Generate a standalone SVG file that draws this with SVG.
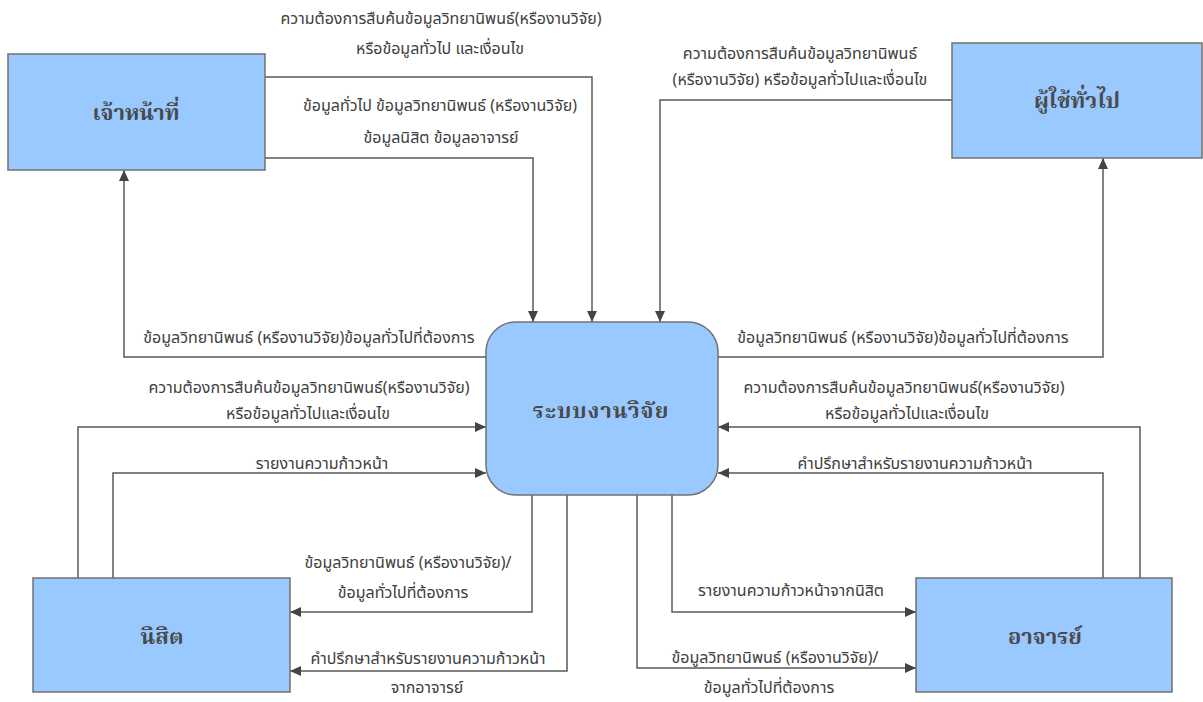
<svg xmlns="http://www.w3.org/2000/svg" width="1203" height="702" viewBox="0 0 1203 702">
<style>
.node{fill:#99c9ff;stroke:#707070;stroke-width:1.5}
.nl{font-family:"Noto Serif Thai","Noto Sans Thai",serif;font-size:22px;fill:#4a4a4a;text-anchor:middle;font-weight:bold}
.c{fill:none;stroke:#5a5a5a;stroke-width:1.5;marker-end:url(#ah)}
.t{font-family:Tahoma,"Noto Sans Thai","Noto Sans",sans-serif;font-size:16px;fill:#404040;text-anchor:middle}
</style>
<defs>
<marker id="ah" markerUnits="userSpaceOnUse" markerWidth="12" markerHeight="10" refX="11" refY="5" orient="auto">
<path d="M0,0 L11,5 L0,10 z" fill="#444"/>
</marker>
</defs>
<rect width="1203" height="702" fill="#fff"/>
<g id="connectors">
<polyline class="c" points="265,77 592,77 592,322"/>
<polyline class="c" points="265,158 533,158 533,322"/>
<polyline class="c" points="952,100 660,100 660,322"/>
<polyline class="c" points="486,357 124,357 124,170"/>
<polyline class="c" points="718,357 1103,357 1103,158"/>
<polyline class="c" points="78,578 78,427 486,427"/>
<polyline class="c" points="113,578 113,473 486,473"/>
<polyline class="c" points="1140,578 1140,427 718,427"/>
<polyline class="c" points="1103,578 1103,473 718,473"/>
<polyline class="c" points="532,495 532,612 290,612"/>
<polyline class="c" points="567,495 567,671 290,671"/>
<polyline class="c" points="637,495 637,668 916,668"/>
<polyline class="c" points="672,495 672,612 916,612"/>
<text class="t" x="441" y="24">ความต้องการสืบค้นข้อมูลวิทยานิพนธ์(หรืองานวิจัย)</text>
<text class="t" x="440" y="54">หรือข้อมูลทั่วไป  และเงื่อนไข</text>
<text class="t" x="440" y="111">ข้อมูลทั่วไป  ข้อมูลวิทยานิพนธ์ (หรืองานวิจัย)</text>
<text class="t" x="441" y="143">ข้อมูลนิสิต  ข้อมูลอาจารย์</text>
<text class="t" x="800" y="59">ความต้องการสืบค้นข้อมูลวิทยานิพนธ์</text>
<text class="t" x="800" y="85">(หรืองานวิจัย) หรือข้อมูลทั่วไปและเงื่อนไข</text>
<text class="t" x="309" y="343">ข้อมูลวิทยานิพนธ์ (หรืองานวิจัย)ข้อมูลทั่วไปที่ต้องการ</text>
<text class="t" x="903" y="343">ข้อมูลวิทยานิพนธ์ (หรืองานวิจัย)ข้อมูลทั่วไปที่ต้องการ</text>
<text class="t" x="309" y="393">ความต้องการสืบค้นข้อมูลวิทยานิพนธ์(หรืองานวิจัย)</text>
<text class="t" x="308" y="419">หรือข้อมูลทั่วไปและเงื่อนไข</text>
<text class="t" x="904" y="393">ความต้องการสืบค้นข้อมูลวิทยานิพนธ์(หรืองานวิจัย)</text>
<text class="t" x="907" y="419">หรือข้อมูลทั่วไปและเงื่อนไข</text>
<text class="t" x="322" y="469">รายงานความก้าวหน้า</text>
<text class="t" x="915" y="469">คำปรึกษาสำหรับรายงานความก้าวหน้า</text>
<text class="t" x="408" y="568">ข้อมูลวิทยานิพนธ์ (หรืองานวิจัย)/</text>
<text class="t" x="403" y="598">ข้อมูลทั่วไปที่ต้องการ</text>
<text class="t" x="428" y="664">คำปรึกษาสำหรับรายงานความก้าวหน้า</text>
<text class="t" x="427" y="693">จากอาจารย์</text>
<text class="t" x="791" y="596">รายงานความก้าวหน้าจากนิสิต</text>
<text class="t" x="775" y="663">ข้อมูลวิทยานิพนธ์ (หรืองานวิจัย)/</text>
<text class="t" x="769" y="693">ข้อมูลทั่วไปที่ต้องการ</text>
</g>
<g id="n-staff">
<rect class="node" x="8" y="54" width="257" height="116"/>
<text class="nl" x="136" y="120">เจ้าหน้าที่</text>
</g>
<g id="n-public">
<rect class="node" x="952" y="43" width="250" height="115"/>
<text class="nl" x="1077" y="108">ผู้ใช้ทั่วไป</text>
</g>
<g id="n-system">
<rect class="node" x="486" y="322" width="232" height="173" rx="30" ry="30"/>
<text class="nl" x="601" y="418" letter-spacing="1">ระบบงานวิจัย</text>
</g>
<g id="n-student">
<rect class="node" x="33" y="578" width="257" height="114"/>
<text class="nl" x="162" y="644">นิสิต</text>
</g>
<g id="n-advisor">
<rect class="node" x="916" y="578" width="256" height="114"/>
<text class="nl" x="1045" y="644">อาจารย์</text>
</g>
</svg>
